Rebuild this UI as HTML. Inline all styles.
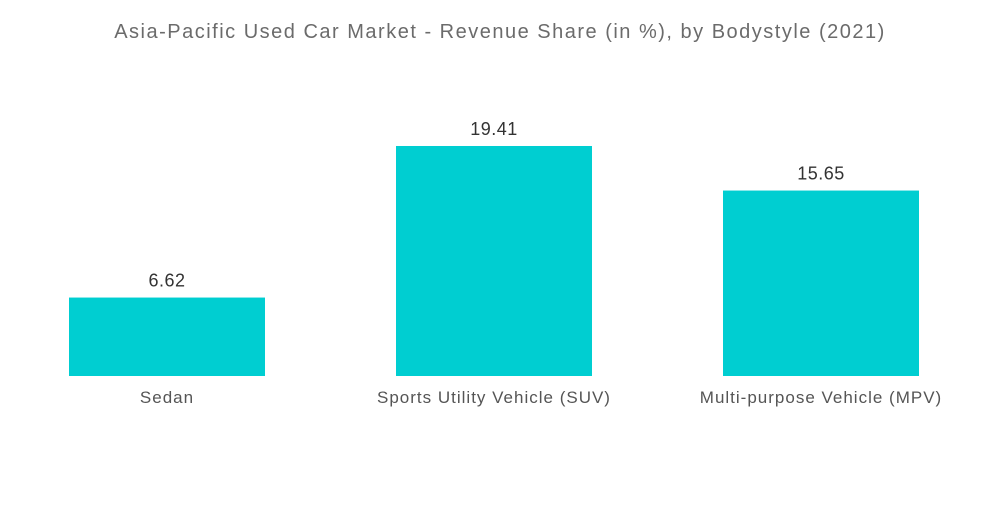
<!DOCTYPE html>
<html><head><meta charset="utf-8"><style>
body{margin:0;width:1000px;height:504px;background:#fff;overflow:hidden;font-family:"Liberation Sans",sans-serif}
</style></head><body>
<svg width="1000" height="504">
<text x="500" y="38" text-anchor="middle" font-size="20" letter-spacing="1.5" fill="#6b6b6b">Asia-Pacific Used Car Market - Revenue Share (in %), by Bodystyle (2021)</text>
<g id="bars"></g>
</svg>
<script>
const categories=["Sedan","Sports Utility Vehicle (SUV)","Multi-purpose Vehicle (MPV)"];
const values=[6.62,19.41,15.65];
const labels=["6.62","19.41","15.65"];
const baseY=376, pxPerUnit=11.85, barW=196, x0=69, step=327;
const y=v=>baseY-v*pxPerUnit;
const g=document.getElementById('bars');
const ns="http://www.w3.org/2000/svg";
categories.forEach((c,i)=>{
  const x=x0+i*step;
  const r=document.createElementNS(ns,'rect');
  r.setAttribute('x',x);r.setAttribute('y',y(values[i]));
  r.setAttribute('width',barW);r.setAttribute('height',baseY-y(values[i]));
  r.setAttribute('fill','#00ced1');
  
  
  g.appendChild(r);
  const t=document.createElementNS(ns,'text');
  t.setAttribute('x',x+barW/2);t.setAttribute('y',y(values[i])-11);
  t.setAttribute('text-anchor','middle');t.setAttribute('font-size','18');t.setAttribute('fill','#333');
  t.setAttribute('letter-spacing','0.5');
  t.textContent=labels[i];
  
  
  g.appendChild(t);
  const l=document.createElementNS(ns,'text');
  l.setAttribute('x',x+barW/2);l.setAttribute('y',403);
  l.setAttribute('text-anchor','middle');l.setAttribute('font-size','17');l.setAttribute('fill','#555');
  l.setAttribute('letter-spacing','1');
  l.textContent=c;
  
  
  g.appendChild(l);
});
</script>
</body></html>
